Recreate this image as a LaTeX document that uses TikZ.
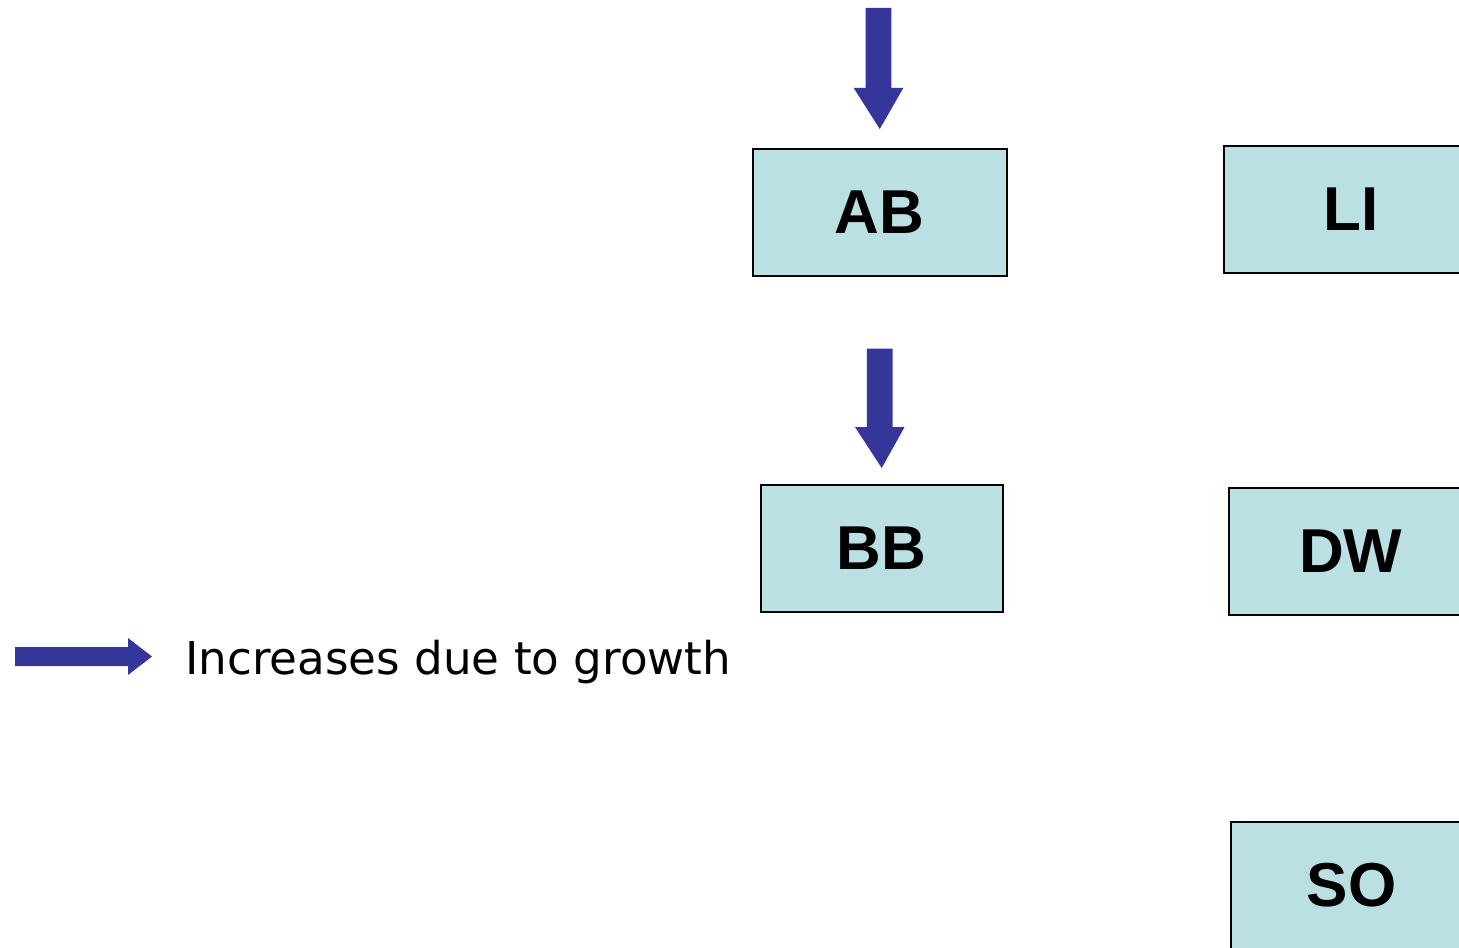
\documentclass[tikz,border=0pt]{standalone}
\usepackage{fontspec}
\setmainfont{Liberation Sans}
\newfontfamily\legendfont{DejaVu Sans}
\usetikzlibrary{calc}
\definecolor{boxfill}{HTML}{BBE0E3}
\definecolor{arrowblue}{HTML}{35369A}
% downward block arrow from a tail coordinate to a tip coordinate
\newcommand\growthdown[2]{%
  \fill[arrowblue] let \p1=(#1), \p2=(#2) in
    (\x1-6.4pt,\y1) -- (\x1+6.4pt,\y1) -- (\x1+6.4pt,\y2+20.5pt) --
    (\x1+12.4pt,\y2+20.5pt) -- (\x2,\y2) -- (\x1-12.4pt,\y2+20.5pt) --
    (\x1-6.4pt,\y2+20.5pt) -- cycle;}
\tikzset{
  stock/.style={draw=black, line width=0.75pt, fill=boxfill, anchor=north west,
    minimum height=63.5pt, inner sep=0pt,
    font=\bfseries\fontsize{31}{31}\selectfont},
}
\begin{document}
\begin{tikzpicture}[x=0.5pt,y=-0.5pt]
\useasboundingbox (0,0) rectangle (1459,947);
\clip (0,0) rectangle (1459,947);

% stocks
\node[stock, minimum width=127pt] (AB) at (752,148) {AB};
\node[stock, minimum width=121pt] (BB) at (760,484) {BB};
\node[stock, minimum width=127pt] (LI) at (1223,145) {LI};
\node[stock, minimum width=122pt] (DW) at (1228,487) {DW};
\node[stock, minimum width=121pt] (SO) at (1230,821) {SO};

% growth flows
\coordinate (feed) at (878.5,8);
\coordinate (abtip) at ($(AB.north)+(0,-19)$);
\coordinate (bbtail) at ($(AB.south)+(0,72)$);
\coordinate (bbtip) at ($(BB.north)+(0,-16)$);
\growthdown{feed}{abtip}
\growthdown{bbtail}{bbtip}

% legend
\node[anchor=base west, inner sep=0pt,
  font=\legendfont\fontsize{22.6}{22.6}\selectfont] (legendtext) at (185,674)
  {Increases due to growth};
\fill[arrowblue] (15,647) -- (128,647) -- (128,638) -- (152,656.5) --
  (128,675) -- (128,666) -- (15,666) -- cycle;
\end{tikzpicture}
\end{document}
